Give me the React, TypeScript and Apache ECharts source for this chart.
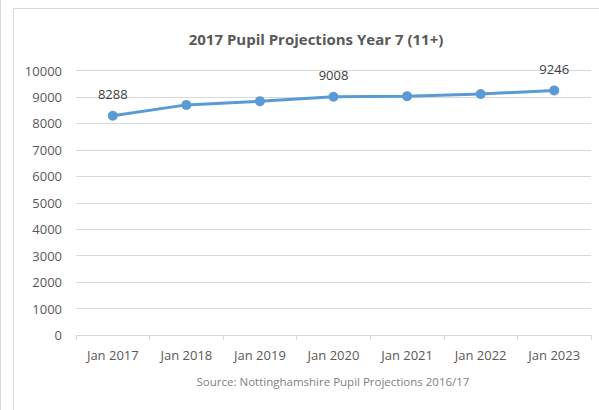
import React, { useEffect, useRef } from "react";
import * as echarts from "echarts";

const categories = ["Jan 2017", "Jan 2018", "Jan 2019", "Jan 2020", "Jan 2021", "Jan 2022", "Jan 2023"];
const pupils = [8288, 8700, 8840, 9008, 9030, 9110, 9246];
const labelledIndices = [0, 3, 6];
const yTicks = { min: 0, max: 10000, interval: 1000 };

const FONT = "'Open Sans', 'Liberation Sans', sans-serif";

export default function App() {
  const ref = useRef<HTMLDivElement>(null);
  useEffect(() => {
    if (!ref.current) return;
    const chart = echarts.init(ref.current, null, { renderer: "svg" });
    const data = pupils.map((v, i) => ({
      value: v,
      label: { show: labelledIndices.includes(i) },
    }));
    chart.setOption({
      animation: false,
      backgroundColor: "#ffffff",
      title: {
        text: "2017 Pupil Projections Year 7 (11+)",
        left: 311,
        textAlign: "center",
        top: 26,
        textStyle: { fontFamily: FONT, fontSize: 15, fontWeight: "bold", color: "#595959" },
      },
      graphic: [
        { type: "line", shape: { x1: 0.5, y1: 0, x2: 0.5, y2: 410 }, style: { stroke: "#d9d9d9", lineWidth: 1 } },
        { type: "line", shape: { x1: 13.5, y1: 8.5, x2: 13.5, y2: 410 }, style: { stroke: "#d9d9d9", lineWidth: 1 } },
        { type: "line", shape: { x1: 13.5, y1: 8.5, x2: 599, y2: 8.5 }, style: { stroke: "#d9d9d9", lineWidth: 1 } },
        {
          type: "text",
          style: {
            text: "Source: Nottinghamshire Pupil Projections 2016/17",
            x: 333,
            y: 381,
            textAlign: "center",
            textVerticalAlign: "middle",
            fontFamily: FONT,
            fontSize: 11.5,
            fill: "#7f7f7f",
          },
        },
      ],
      grid: { left: 76, right: 8, top: 70.5, bottom: 75, containLabel: false },
      xAxis: {
        type: "category",
        data: categories,
        boundaryGap: true,
        axisLine: { lineStyle: { color: "#d9d9d9", width: 1 } },
        axisTick: { show: true, length: 5, lineStyle: { color: "#d9d9d9" } },
        axisLabel: { color: "#595959", fontFamily: FONT, fontSize: 13, margin: 13 },
      },
      yAxis: {
        type: "value",
        min: yTicks.min,
        max: yTicks.max,
        interval: yTicks.interval,
        axisLine: { show: false },
        axisTick: { show: false },
        splitLine: { lineStyle: { color: "#d9d9d9", width: 1 } },
        axisLabel: {
          color: "#595959",
          fontFamily: FONT,
          fontSize: 13,
          margin: 14,
          formatter: (v: number) => String(v),
        },
      },
      series: [
        {
          type: "line",
          data,
          symbol: "circle",
          symbolSize: 10,
          lineStyle: { color: "#5b9bd5", width: 3 },
          itemStyle: { color: "#5b9bd5" },
          label: {
            position: "top",
            distance: 10,
            color: "#404040",
            fontFamily: FONT,
            fontSize: 13,
          },
        },
      ],
    });
    return () => chart.dispose();
  }, []);
  return <div ref={ref} style={{ position: "fixed", left: 0, top: 0, width: 599, height: 410 }} />;
}
